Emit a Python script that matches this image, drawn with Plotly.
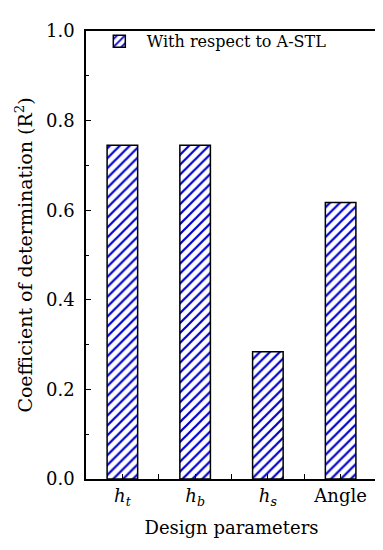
import plotly.graph_objects as go

params = ["<i>h</i><sub><i>t</i></sub>", "<i>h</i><sub><i>b</i></sub>",
          "<i>h</i><sub><i>s</i></sub>", "Angle"]
r2_astl = [0.745, 0.745, 0.284, 0.617]

FONT = "DejaVu Serif"

fig = go.Figure()
fig.add_trace(go.Bar(
    x=[0, 1, 2, 3], y=r2_astl, name="With respect to A-STL",
    width=0.42,
    marker=dict(color="white", line=dict(color="black", width=1.5),
                pattern=dict(shape="/", fgcolor="#0000cc", bgcolor="white",
                             fgopacity=1, size=7, solidity=0.32)),
))

axis_common = dict(showline=True, linecolor="black", linewidth=1.5, mirror=True,
                   ticks="inside", ticklen=5, tickcolor="black", tickwidth=1.2,
                   showgrid=False, zeroline=False,
                   tickfont=dict(family=FONT, size=18, color="black"))

fig.update_xaxes(range=[-0.5, 3.5], tickvals=[0, 1, 2, 3], ticktext=params,
                 minor=dict(ticks="inside", ticklen=5, tickcolor="black",
                            tickvals=[0.5, 1.5, 2.5]),
                 ticklabelstandoff=0,
                 title=dict(text="Design parameters", standoff=13,
                            font=dict(family=FONT, size=18, color="black")),
                 **axis_common)
fig.update_yaxes(range=[0, 1.0], tickvals=[0, 0.2, 0.4, 0.6, 0.8, 1.0],
                 tickformat=".1f",
                 minor=dict(ticks="inside", ticklen=3, tickcolor="black", dtick=0.1),
                 ticklabelstandoff=6,
                 title=dict(text="Coefficient of determination (R<sup>2</sup>)", standoff=8,
                            font=dict(family=FONT, size=19, color="black")),
                 **axis_common)

fig.update_layout(
    width=383, height=550,
    margin=dict(l=78, r=13, t=18, b=79),
    plot_bgcolor="white", paper_bgcolor="white",
    showlegend=True,
    legend=dict(x=0.02, y=1.015, xanchor="left", yanchor="top",
                bgcolor="rgba(0,0,0,0)", itemwidth=45,
                font=dict(family=FONT, size=16, color="black")),
)

fig.write_html("out.html")
